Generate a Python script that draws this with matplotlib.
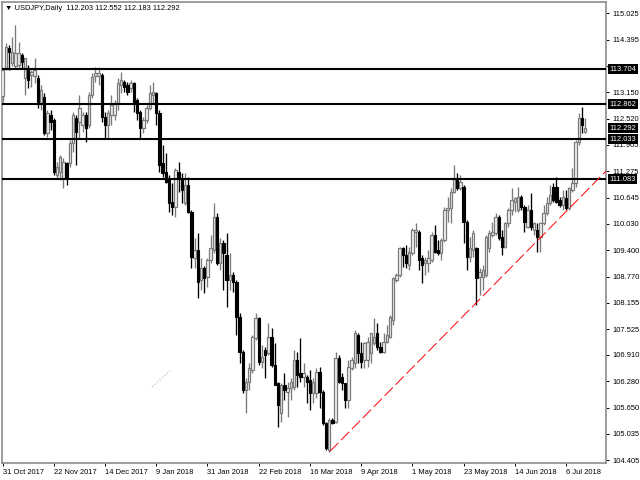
import numpy as np
import matplotlib.pyplot as plt

# USDJPY daily bars, 31 Oct 2017 .. 16 Jul 2018
opens = [
    113.06, 113.72, 114.20, 113.84, 113.77, 113.80, 114.03, 113.49, 113.72, 113.56,
    113.53, 113.49, 112.89, 113.04, 112.18, 112.61, 112.49, 111.18, 111.25, 111.11,
    111.47, 111.47, 111.94, 112.54, 112.44, 112.37, 112.61, 112.37, 113.08, 113.53,
    113.53, 113.56, 112.56, 112.37, 112.61, 112.61, 112.89, 113.32, 113.39, 113.32,
    113.25, 113.37, 112.96, 112.68, 112.30, 112.49, 112.77, 113.08, 113.13, 112.66,
    111.47, 111.25, 111.11, 110.54, 110.42, 111.25, 111.11, 110.52, 110.94, 110.30,
    109.21, 109.40, 108.69, 108.97, 108.76, 109.16, 109.40, 110.18, 109.09, 109.57,
    109.28, 108.69, 108.81, 108.64, 107.81, 106.98, 106.07, 106.26, 106.55, 107.31,
    107.78, 106.74, 107.02, 106.95, 107.33, 106.67, 106.24, 105.53, 106.19, 106.03,
    106.12, 106.14, 106.79, 106.48, 106.38, 106.38, 106.31, 106.00, 106.00, 106.50,
    106.03, 105.29, 104.65, 105.36, 105.31, 106.83, 106.38, 106.24, 105.84, 106.60,
    106.72, 107.38, 106.95, 106.79, 106.79, 106.95, 107.19, 107.43, 107.10, 106.98,
    107.22, 107.33, 107.74, 108.69, 108.81, 109.45, 109.28, 109.04, 109.33, 109.83,
    109.83, 109.21, 109.09, 109.09, 109.16, 109.76, 109.40, 109.33, 109.64, 110.35,
    110.40, 110.78, 111.06, 110.87, 110.90, 110.07, 109.23, 109.40, 109.45, 108.76,
    108.76, 108.81, 109.45, 109.76, 109.80, 110.18, 109.71, 109.47, 110.04, 110.35,
    110.54, 110.35, 110.66, 110.42, 109.95, 110.35, 109.87, 109.87, 109.71, 110.04,
    110.28, 110.52, 110.90, 110.90, 110.59, 110.47, 110.64, 110.40, 110.83, 110.99,
    111.97, 112.54, 112.203,
]
highs = [
    113.72, 114.32, 114.27, 114.46, 114.75, 114.34, 114.08, 113.96, 113.80, 113.68,
    113.96, 113.56, 113.32, 113.13, 112.73, 112.73, 112.54, 111.49, 111.66, 111.59,
    111.49, 112.01, 112.68, 112.61, 113.08, 112.68, 112.68, 113.15, 113.61, 113.75,
    113.75, 113.61, 112.68, 112.73, 113.08, 112.96, 113.49, 113.63, 113.44, 113.39,
    113.44, 113.39, 113.01, 112.73, 112.56, 112.85, 113.32, 113.39, 113.15, 112.73,
    111.90, 111.71, 111.18, 110.99, 111.35, 111.49, 111.23, 111.23, 111.13, 110.35,
    109.69, 109.80, 109.21, 109.02, 109.21, 109.76, 110.52, 110.28, 109.69, 109.64,
    109.80, 109.33, 108.88, 108.69, 107.90, 107.02, 106.36, 106.72, 107.38, 107.90,
    107.81, 107.14, 107.10, 107.67, 107.55, 107.19, 106.26, 106.24, 106.48, 106.26,
    106.36, 107.02, 106.98, 107.31, 106.72, 106.43, 106.55, 106.36, 106.60, 106.62,
    106.07, 105.31, 105.41, 105.41, 106.98, 106.91, 106.48, 106.24, 106.79, 106.86,
    107.50, 107.43, 107.22, 107.22, 107.33, 107.43, 107.78, 107.67, 107.22, 107.43,
    107.62, 107.86, 108.76, 108.85, 109.47, 109.47, 109.52, 109.47, 109.92, 110.04,
    109.87, 109.28, 109.23, 109.40, 109.83, 109.99, 109.64, 109.69, 110.42, 110.66,
    110.87, 111.42, 111.23, 111.18, 110.94, 110.11, 109.71, 109.88, 109.47, 108.97,
    109.04, 109.76, 109.88, 110.07, 110.28, 110.23, 109.88, 110.07, 110.40, 110.87,
    110.66, 110.90, 110.71, 110.47, 110.47, 110.76, 110.07, 110.04, 110.07, 110.47,
    110.66, 110.94, 110.99, 111.13, 110.66, 110.83, 110.83, 110.90, 111.35, 112.01,
    112.65, 112.80, 112.552,
]
lows = [
    112.92, 113.68, 113.68, 113.77, 113.72, 113.72, 113.72, 113.08, 113.25, 113.27,
    113.37, 112.77, 112.73, 112.13, 112.09, 112.25, 111.18, 111.11, 111.06, 110.87,
    110.94, 111.37, 111.73, 111.42, 112.06, 112.20, 111.97, 112.30, 113.01, 113.39,
    113.32, 112.44, 112.06, 112.06, 112.37, 112.49, 112.73, 113.13, 113.15, 113.08,
    113.15, 112.68, 112.49, 112.06, 112.18, 112.42, 112.73, 112.89, 112.37, 111.25,
    111.13, 110.99, 110.30, 110.23, 110.18, 110.78, 110.52, 110.47, 110.28, 108.97,
    108.97, 108.26, 108.45, 108.38, 108.52, 109.09, 109.33, 109.04, 108.93, 108.45,
    108.05, 108.45, 108.40, 107.38, 106.72, 106.00, 105.53, 106.07, 106.48, 107.26,
    106.67, 106.60, 106.36, 106.91, 106.62, 106.19, 105.19, 105.31, 105.84, 105.43,
    105.84, 106.07, 106.14, 106.26, 106.14, 105.76, 105.60, 105.76, 105.88, 105.65,
    105.24, 104.65, 104.60, 105.27, 105.29, 106.24, 106.07, 105.65, 105.65, 106.55,
    106.60, 106.72, 106.60, 106.60, 106.62, 106.72, 107.14, 107.02, 106.95, 106.95,
    107.19, 107.31, 107.62, 108.64, 108.76, 109.00, 108.97, 108.93, 109.28, 109.47,
    108.93, 108.62, 108.81, 108.88, 109.11, 109.33, 109.28, 109.16, 109.59, 110.07,
    110.04, 110.76, 110.83, 110.83, 109.57, 108.93, 109.11, 109.23, 108.09, 108.33,
    108.45, 108.76, 109.35, 109.71, 109.76, 109.64, 109.28, 109.45, 109.95, 110.23,
    110.30, 110.30, 110.35, 109.83, 109.92, 109.87, 109.76, 109.35, 109.35, 109.99,
    110.23, 110.47, 110.54, 110.52, 110.42, 110.35, 110.35, 110.35, 110.78, 110.90,
    111.90, 112.18, 112.183,
]
closes = [
    113.68, 114.22, 114.10, 114.10, 114.08, 114.08, 113.87, 113.96, 113.44, 113.63,
    113.68, 112.92, 113.20, 112.18, 112.66, 112.44, 111.25, 111.37, 111.61, 111.49,
    111.11, 111.94, 112.61, 112.20, 112.77, 112.61, 112.30, 113.08, 113.51, 113.61,
    113.61, 112.56, 112.37, 112.66, 112.85, 112.89, 113.37, 113.44, 113.27, 113.15,
    113.37, 112.89, 112.66, 112.30, 112.49, 112.77, 113.13, 113.15, 112.66, 111.42,
    111.23, 111.02, 110.52, 110.42, 111.30, 111.11, 110.83, 110.94, 110.30, 109.23,
    109.40, 108.64, 108.97, 108.73, 109.16, 109.45, 110.18, 109.09, 109.57, 109.33,
    108.69, 108.81, 108.64, 107.81, 106.98, 106.07, 106.26, 106.60, 107.33, 107.78,
    106.74, 106.86, 106.91, 107.33, 106.67, 106.19, 105.72, 106.19, 106.07, 106.12,
    106.26, 106.79, 106.43, 106.38, 106.48, 106.26, 106.00, 106.26, 106.50, 106.03,
    105.29, 104.70, 105.36, 105.29, 106.83, 106.26, 106.24, 105.84, 106.62, 106.79,
    107.43, 106.95, 106.74, 107.19, 107.22, 107.43, 107.33, 107.10, 106.98, 107.22,
    107.38, 107.81, 108.73, 108.81, 109.45, 109.28, 109.09, 109.35, 109.87, 109.87,
    109.16, 109.04, 109.16, 109.21, 109.76, 109.35, 109.33, 109.64, 110.35, 110.40,
    110.78, 111.11, 110.87, 111.02, 110.07, 109.23, 109.45, 109.80, 108.73, 108.88,
    108.93, 109.71, 109.80, 109.83, 110.18, 109.69, 109.47, 110.04, 110.35, 110.59,
    110.64, 110.66, 110.42, 110.07, 110.35, 109.95, 110.04, 109.71, 110.04, 110.28,
    110.52, 110.71, 110.59, 110.54, 110.47, 110.66, 110.40, 110.87, 110.99, 111.97,
    112.54, 112.37, 112.292,
]

date_labels = ["31 Oct 2017", "22 Nov 2017", "14 Dec 2017", "9 Jan 2018", "31 Jan 2018",
               "22 Feb 2018", "16 Mar 2018", "9 Apr 2018", "1 May 2018", "23 May 2018",
               "14 Jun 2018", "6 Jul 2018"]
price_ticks = [115.025, 114.395, 113.780, 113.150, 112.520, 111.905, 111.275, 110.645,
               110.030, 109.400, 108.770, 108.155, 107.525, 106.910, 106.280, 105.650,
               105.035, 104.405]
levels = [113.704, 112.862, 112.033, 111.083]

# support trendline (bar index, price) and a small stray object
trend_x = [102.3, 188.5]
trend_y = [104.62, 111.28]
stray_x = [46.7, 52.6]
stray_y = [106.15, 106.55]

o = np.array(opens)
h = np.array(highs)
l = np.array(lows)
c = np.array(closes)
x = np.arange(len(c))
up = c >= o

plt.rcParams['font.family'] = ['Liberation Sans', 'DejaVu Sans']

fig = plt.figure(figsize=(6.4, 4.8), dpi=100)
ax = fig.add_axes([2 / 640, 17 / 480, 604 / 640, 461.5 / 480])

wick_col = np.where(up, '#7a7a7a', 'black')
ax.vlines(x, l, h, colors=wick_col, linewidth=0.95, zorder=2)
body_h = np.maximum(np.abs(c - o), 0.012)
body_b = np.minimum(o, c)
ax.bar(x[up], body_h[up], bottom=body_b[up], width=0.75, color='#f4f4f4',
       edgecolor='#7a7a7a', linewidth=0.9, zorder=3)
ax.bar(x[~up], body_h[~up], bottom=body_b[~up], width=0.75, color='black',
       edgecolor='black', linewidth=0.8, zorder=3)

for lv in levels:
    ax.axhline(lv, color='black', linewidth=1.5, zorder=4)

ax.plot(trend_x, trend_y, color='#ff0000', linewidth=0.7, dashes=(12, 4), zorder=5)
ax.plot(stray_x, stray_y, color='#a9c6e3', linewidth=0.9, linestyle=':', zorder=1)

ax.set_xlim(-0.2, 188.5)
ax.set_ylim(104.34, 115.31)

ax.set_xticks(np.arange(0, 16 * len(date_labels), 16))
ax.set_xticklabels(date_labels, fontsize=5.4, ha='left')
ax.yaxis.tick_right()
ax.set_yticks(price_ticks)
# the 113.780 label sits under the 113.704 price box
ax.set_yticklabels(["" if v == 113.780 else f"{v:.3f}" for v in price_ticks], fontsize=5.4)
ax.tick_params(axis='x', length=2.5, pad=1.5, width=0.7)
ax.tick_params(axis='y', length=2.5, pad=2, width=0.7)

for s in ax.spines.values():
    s.set_color('#8c8c8c')
    s.set_linewidth(1.2)

# price boxes on the right scale
yt = ax.get_yaxis_transform()
for lv in levels + [closes[-1]]:
    ax.text(1.006, lv, f"{lv:.3f}", transform=yt, fontsize=5.4, color='white',
            va='center', ha='left', zorder=10, clip_on=False,
            bbox=dict(boxstyle='square,pad=0.2', fc='black', ec='none'))

fig.text(5 / 640, 1 - 8 / 480,
         f"\u25bc USDJPY,Daily  {opens[-1]:.3f} {highs[-1]:.3f} {lows[-1]:.3f} {closes[-1]:.3f}",
         fontsize=5.4, va='center', ha='left', color='black')

fig.savefig('out.png', dpi=100)
